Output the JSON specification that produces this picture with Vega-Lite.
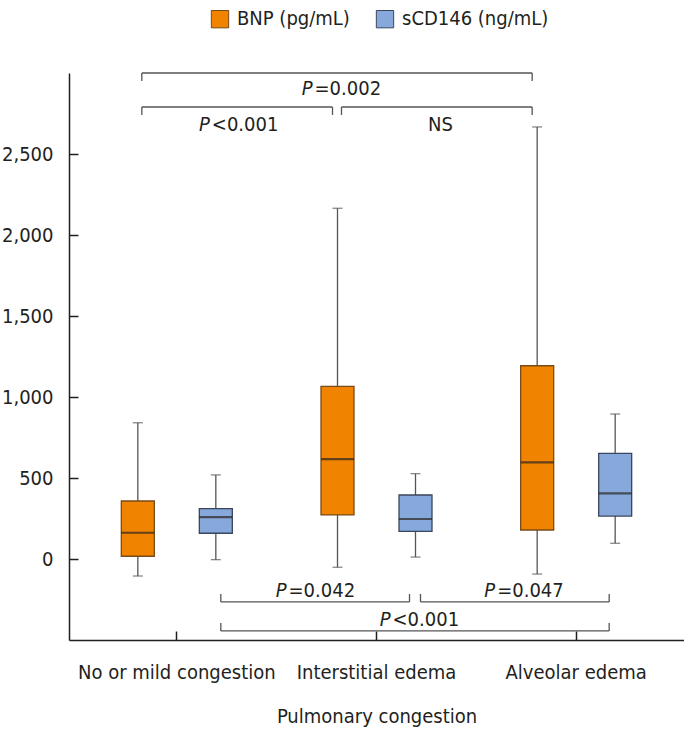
{
  "$schema": "https://vega.github.io/schema/vega-lite/v6.json",
  "width": 615,
  "height": 567,
  "autosize": {"type": "none"},
  "padding": {"left": 69, "top": 73, "right": 0, "bottom": 93},
  "config": {
    "view": {"stroke": null},
    "font": "DejaVu Sans Condensed",
    "text": {"font": "DejaVu Sans Condensed", "fontSize": 20, "color": "#231f20", "baseline": "middle"}
  },
  "datasets": {
    "boxes": [
      {"group": "No or mild congestion", "series": "BNP (pg/mL)", "lower": -105, "q1": 17, "median": 162, "q3": 358, "upper": 841},
      {"group": "No or mild congestion", "series": "sCD146 (ng/mL)", "lower": -4, "q1": 159, "median": 259, "q3": 311, "upper": 519},
      {"group": "Interstitial edema", "series": "BNP (pg/mL)", "lower": -51, "q1": 272, "median": 617, "q3": 1066, "upper": 2165},
      {"group": "Interstitial edema", "series": "sCD146 (ng/mL)", "lower": 12, "q1": 171, "median": 247, "q3": 395, "upper": 527},
      {"group": "Alveolar edema", "series": "BNP (pg/mL)", "lower": -93, "q1": 179, "median": 597, "q3": 1193, "upper": 2667},
      {"group": "Alveolar edema", "series": "sCD146 (ng/mL)", "lower": 97, "q1": 265, "median": 405, "q3": 652, "upper": 895}
    ],
    "brackets": [
      {"side": "top", "from": "No or mild congestion", "to": "Alveolar edema", "level": 3000, "end": 2951},
      {"side": "top", "from": "No or mild congestion", "to": "Interstitial edema", "level": 2790, "end": 2741},
      {"side": "top", "from": "Interstitial edema", "to": "Alveolar edema", "level": 2790, "end": 2741},
      {"side": "bottom", "from": "No or mild congestion", "to": "Interstitial edema", "level": -265, "end": -216},
      {"side": "bottom", "from": "Interstitial edema", "to": "Alveolar edema", "level": -265, "end": -216},
      {"side": "bottom", "from": "No or mild congestion", "to": "Alveolar edema", "level": -444, "end": -395}
    ],
    "notes": [
      {"id": "a", "p": "P", "rest": "=0.002", "anchor": "Interstitial edema", "y": 2900},
      {"id": "b", "p": "P", "rest": "<0.001", "anchor": "No or mild congestion", "y": 2682},
      {"id": "c", "p": "", "rest": "NS", "anchor": "Interstitial edema", "y": 2682},
      {"id": "d", "p": "P", "rest": "=0.042", "anchor": "Interstitial edema", "y": -197},
      {"id": "e", "p": "P", "rest": "=0.047", "anchor": "Alveolar edema", "y": -197},
      {"id": "f", "p": "P", "rest": "<0.001", "anchor": "Interstitial edema", "y": -375}
    ]
  },
  "layer": [
    {
      "data": {"name": "boxes"},
      "mark": {"type": "rule", "color": "#555555", "strokeWidth": 1.3},
      "encoding": {
        "x": {
          "field": "group", "type": "nominal",
          "scale": {"domain": ["No or mild congestion", "Interstitial edema", "Alveolar edema"], "paddingInner": 0, "paddingOuter": 0.04},
          "axis": {"title": "Pulmonary congestion", "labelAngle": 0, "tickSize": -9, "labelPadding": 31, "titlePadding": 24, "labelLimit": 400,
                   "labelFontSize": 20, "titleFontSize": 20, "titleFontWeight": "normal", "labelFont": "DejaVu Sans Condensed", "titleFont": "DejaVu Sans Condensed",
                   "labelColor": "#231f20", "titleColor": "#231f20", "domainColor": "#231f20", "tickColor": "#231f20", "domainWidth": 1.5, "tickWidth": 1.5}
        },
        "xOffset": {"field": "series", "type": "nominal", "scale": {"domain": ["BNP (pg/mL)", "sCD146 (ng/mL)"], "paddingInner": 0, "paddingOuter": 0.28}},
        "y": {
          "field": "lower", "type": "quantitative",
          "scale": {"domain": [-500, 3000], "nice": false, "zero": false},
          "axis": {"title": null, "values": [0, 500, 1000, 1500, 2000, 2500], "format": ",d", "grid": false, "tickSize": -9, "labelPadding": 25,
                   "labelFontSize": 20, "labelFont": "DejaVu Sans Condensed", "labelColor": "#231f20", "domainColor": "#231f20", "tickColor": "#231f20", "domainWidth": 1.5, "tickWidth": 1.5}
        },
        "y2": {"field": "upper"}
      }
    },
    {
      "data": {"name": "boxes"},
      "mark": {"type": "bar", "width": 33, "strokeWidth": 1.3},
      "encoding": {
        "x": {"field": "group", "type": "nominal"},
        "xOffset": {"field": "series", "type": "nominal"},
        "y": {"field": "q1", "type": "quantitative"},
        "y2": {"field": "q3"},
        "color": {
          "field": "series", "type": "nominal",
          "scale": {"domain": ["BNP (pg/mL)", "sCD146 (ng/mL)"], "range": ["#f08400", "#86a8db"]},
          "legend": {"orient": "none", "legendX": 141, "legendY": -64, "direction": "horizontal", "title": null, "symbolType": "square", "symbolSize": 300,
                     "symbolStrokeColor": "#5a4a3a", "symbolStrokeWidth": 1, "labelFontSize": 20, "labelFont": "DejaVu Sans Condensed", "labelColor": "#231f20",
                     "columnPadding": 24, "labelOffset": 7, "padding": 0, "labelLimit": 300}
        },
        "stroke": {"field": "series", "type": "nominal", "scale": {"domain": ["BNP (pg/mL)", "sCD146 (ng/mL)"], "range": ["#7a4a18", "#3a465c"]}, "legend": null}
      }
    },
    {
      "data": {"name": "boxes"},
      "mark": {"type": "tick", "size": 33, "thickness": 2.2, "color": "#2a2320"},
      "encoding": {
        "x": {"field": "group", "type": "nominal"},
        "xOffset": {"field": "series", "type": "nominal"},
        "y": {"field": "median", "type": "quantitative"}
      }
    },
    {
      "data": {"name": "boxes"},
      "mark": {"type": "tick", "size": 10, "thickness": 1.3, "color": "#555555"},
      "encoding": {
        "x": {"field": "group", "type": "nominal"},
        "xOffset": {"field": "series", "type": "nominal"},
        "y": {"field": "upper", "type": "quantitative"}
      }
    },
    {
      "data": {"name": "boxes"},
      "mark": {"type": "tick", "size": 10, "thickness": 1.3, "color": "#555555"},
      "encoding": {
        "x": {"field": "group", "type": "nominal"},
        "xOffset": {"field": "series", "type": "nominal"},
        "y": {"field": "lower", "type": "quantitative"}
      }
    },
    {
      "data": {"name": "brackets"},
      "transform": [{"filter": "datum.side == 'top'"}],
      "mark": {"type": "rule", "color": "#555555", "strokeWidth": 1.3, "xOffset": -35, "x2Offset": -44},
      "encoding": {
        "x": {"field": "from", "type": "nominal"},
        "x2": {"field": "to"},
        "y": {"field": "level", "type": "quantitative"}
      }
    },
    {
      "data": {"name": "brackets"},
      "transform": [{"filter": "datum.side == 'top'"}],
      "mark": {"type": "rule", "color": "#555555", "strokeWidth": 1.3, "xOffset": -35},
      "encoding": {
        "x": {"field": "from", "type": "nominal"},
        "y": {"field": "level", "type": "quantitative"},
        "y2": {"field": "end"}
      }
    },
    {
      "data": {"name": "brackets"},
      "transform": [{"filter": "datum.side == 'top'"}],
      "mark": {"type": "rule", "color": "#555555", "strokeWidth": 1.3, "xOffset": -44},
      "encoding": {
        "x": {"field": "to", "type": "nominal"},
        "y": {"field": "level", "type": "quantitative"},
        "y2": {"field": "end"}
      }
    },
    {
      "data": {"name": "brackets"},
      "transform": [{"filter": "datum.side == 'bottom'"}],
      "mark": {"type": "rule", "color": "#555555", "strokeWidth": 1.3, "xOffset": 44, "x2Offset": 33},
      "encoding": {
        "x": {"field": "from", "type": "nominal"},
        "x2": {"field": "to"},
        "y": {"field": "level", "type": "quantitative"}
      }
    },
    {
      "data": {"name": "brackets"},
      "transform": [{"filter": "datum.side == 'bottom'"}],
      "mark": {"type": "rule", "color": "#555555", "strokeWidth": 1.3, "xOffset": 44},
      "encoding": {
        "x": {"field": "from", "type": "nominal"},
        "y": {"field": "level", "type": "quantitative"},
        "y2": {"field": "end"}
      }
    },
    {
      "data": {"name": "brackets"},
      "transform": [{"filter": "datum.side == 'bottom'"}],
      "mark": {"type": "rule", "color": "#555555", "strokeWidth": 1.3, "xOffset": 33},
      "encoding": {
        "x": {"field": "to", "type": "nominal"},
        "y": {"field": "level", "type": "quantitative"},
        "y2": {"field": "end"}
      }
    },
    {
      "data": {"name": "notes"}, "transform": [{"filter": "datum.id == 'a'"}],
      "mark": {"type": "text", "align": "right", "fontStyle": "italic", "dx": -64},
      "encoding": {"x": {"field": "anchor", "type": "nominal"}, "y": {"field": "y", "type": "quantitative"}, "text": {"field": "p"}}
    },
    {
      "data": {"name": "notes"}, "transform": [{"filter": "datum.id == 'a'"}],
      "mark": {"type": "text", "align": "left", "dx": -62},
      "encoding": {"x": {"field": "anchor", "type": "nominal"}, "y": {"field": "y", "type": "quantitative"}, "text": {"field": "rest"}}
    },
    {
      "data": {"name": "notes"}, "transform": [{"filter": "datum.id == 'b'"}],
      "mark": {"type": "text", "align": "right", "fontStyle": "italic", "dx": 33},
      "encoding": {"x": {"field": "anchor", "type": "nominal"}, "y": {"field": "y", "type": "quantitative"}, "text": {"field": "p"}}
    },
    {
      "data": {"name": "notes"}, "transform": [{"filter": "datum.id == 'b'"}],
      "mark": {"type": "text", "align": "left", "dx": 35},
      "encoding": {"x": {"field": "anchor", "type": "nominal"}, "y": {"field": "y", "type": "quantitative"}, "text": {"field": "rest"}}
    },
    {
      "data": {"name": "notes"}, "transform": [{"filter": "datum.id == 'c'"}],
      "mark": {"type": "text", "align": "center", "dx": 64},
      "encoding": {"x": {"field": "anchor", "type": "nominal"}, "y": {"field": "y", "type": "quantitative"}, "text": {"field": "rest"}}
    },
    {
      "data": {"name": "notes"}, "transform": [{"filter": "datum.id == 'd'"}],
      "mark": {"type": "text", "align": "right", "fontStyle": "italic", "dx": -90},
      "encoding": {"x": {"field": "anchor", "type": "nominal"}, "y": {"field": "y", "type": "quantitative"}, "text": {"field": "p"}}
    },
    {
      "data": {"name": "notes"}, "transform": [{"filter": "datum.id == 'd'"}],
      "mark": {"type": "text", "align": "left", "dx": -88},
      "encoding": {"x": {"field": "anchor", "type": "nominal"}, "y": {"field": "y", "type": "quantitative"}, "text": {"field": "rest"}}
    },
    {
      "data": {"name": "notes"}, "transform": [{"filter": "datum.id == 'e'"}],
      "mark": {"type": "text", "align": "right", "fontStyle": "italic", "dx": -81},
      "encoding": {"x": {"field": "anchor", "type": "nominal"}, "y": {"field": "y", "type": "quantitative"}, "text": {"field": "p"}}
    },
    {
      "data": {"name": "notes"}, "transform": [{"filter": "datum.id == 'e'"}],
      "mark": {"type": "text", "align": "left", "dx": -79},
      "encoding": {"x": {"field": "anchor", "type": "nominal"}, "y": {"field": "y", "type": "quantitative"}, "text": {"field": "rest"}}
    },
    {
      "data": {"name": "notes"}, "transform": [{"filter": "datum.id == 'f'"}],
      "mark": {"type": "text", "align": "right", "fontStyle": "italic", "dx": 14},
      "encoding": {"x": {"field": "anchor", "type": "nominal"}, "y": {"field": "y", "type": "quantitative"}, "text": {"field": "p"}}
    },
    {
      "data": {"name": "notes"}, "transform": [{"filter": "datum.id == 'f'"}],
      "mark": {"type": "text", "align": "left", "dx": 16},
      "encoding": {"x": {"field": "anchor", "type": "nominal"}, "y": {"field": "y", "type": "quantitative"}, "text": {"field": "rest"}}
    }
  ]
}
